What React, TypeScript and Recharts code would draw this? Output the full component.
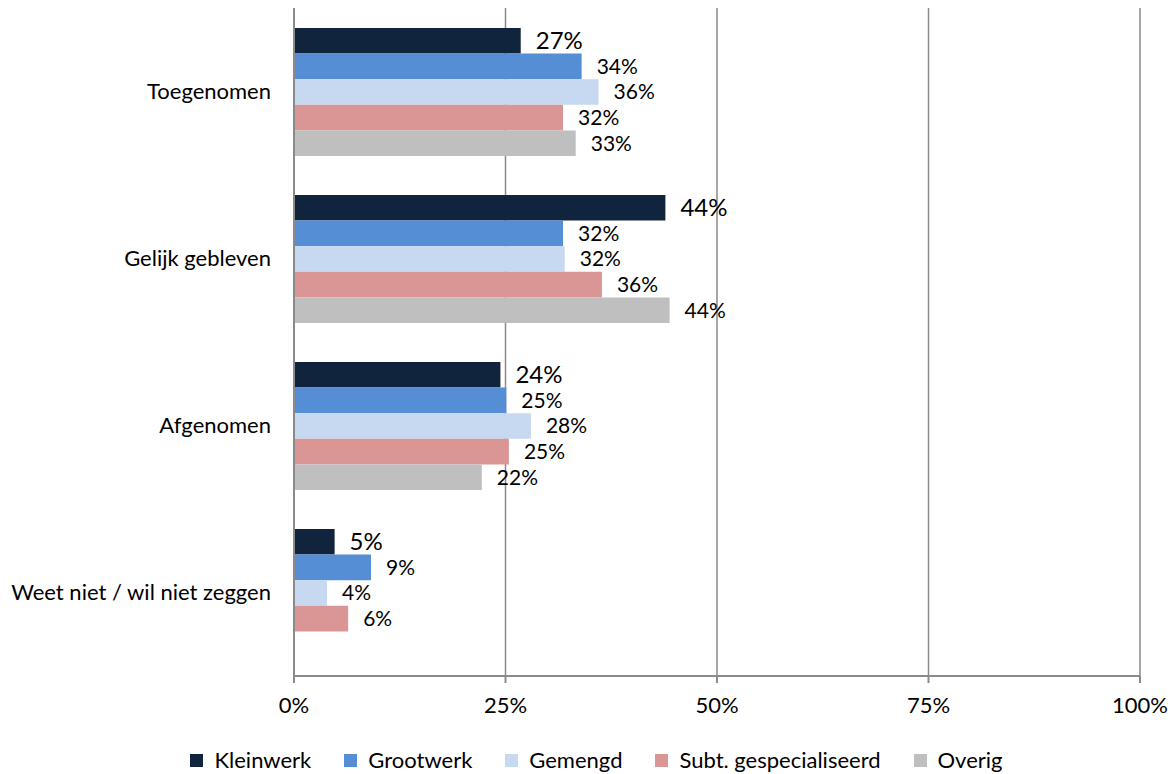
import React from "react"
import { BarChart, Bar, XAxis, YAxis, CartesianGrid, Legend, LabelList } from "recharts"

const categories = ["Toegenomen", "Gelijk gebleven", "Afgenomen", "Weet niet / wil niet zeggen"]
const kleinwerk = [26.8, 43.9, 24.4, 4.8]
const grootwerk = [34.0, 31.8, 25.1, 9.1]
const gemengd = [36.0, 32.0, 28.0, 3.9]
const subtGespecialiseerd = [31.8, 36.4, 25.4, 6.4]
const overig: (number | null)[] = [33.3, 44.4, 22.2, null]
const xTicks = [0, 25, 50, 75, 100]

const series = [
  { key: "kleinwerk", name: "Kleinwerk", color: "#10243e", values: kleinwerk, labelSize: 24 },
  { key: "grootwerk", name: "Grootwerk", color: "#558ed5", values: grootwerk, labelSize: 21 },
  { key: "gemengd", name: "Gemengd", color: "#c6d9f1", values: gemengd, labelSize: 21 },
  { key: "subt", name: "Subt. gespecialiseerd", color: "#d99694", values: subtGespecialiseerd, labelSize: 21 },
  { key: "overig", name: "Overig", color: "#bfbfbf", values: overig, labelSize: 21 },
]

const data = categories.map((name, i) => {
  const row: Record<string, any> = { name }
  series.forEach((s) => (row[s.key] = s.values[i]))
  return row
})

const GRID = "#8a8a8a"

const LegendContent = () => (
  <div style={{ display: "flex", justifyContent: "center", gap: 33, height: 24, alignItems: "center", paddingLeft: 18 }}>
    {series.map((s) => (
      <div key={s.key} style={{ display: "flex", alignItems: "center" }}>
        <span style={{ width: 13, height: 13, background: s.color, display: "inline-block", marginRight: 11 }} />
        <span style={{ fontSize: 22, color: "#000", lineHeight: "24px" }}>{s.name}</span>
      </div>
    ))}
  </div>
)

export default function App() {
  return (
    <div style={{ position: "absolute", left: 0, top: 0, width: 1175, height: 774, background: "#fff", fontFamily: "Lato, 'Open Sans', sans-serif" }}>
      <BarChart
        layout="vertical"
        width={1175}
        height={774}
        data={data}
        margin={{ top: 8, right: 35, left: 0, bottom: 2 }}
        barSize={25.6}
        barGap={0}
      >
        <CartesianGrid horizontal={false} stroke={GRID} strokeWidth={1.5} />
        <YAxis
          yAxisId="frame"
          type="number"
          domain={[0, 4]}
          ticks={[0, 1, 2, 3, 4]}
          allowDataOverflow
          tick={false}
          tickSize={7}
          axisLine={false}
          tickLine={{ stroke: GRID, strokeWidth: 2 }}
          width={0}
        />
        <YAxis
          type="category"
          dataKey="name"
          width={294}
          tickLine={false}
          tickSize={0}
          tickMargin={23}
          axisLine={{ stroke: GRID, strokeWidth: 2 }}
          tick={{ fill: "#000", fontSize: 22 }}
        />
        <XAxis
          type="number"
          domain={[0, 100]}
          ticks={xTicks}
          tickFormatter={(v) => `${v}%`}
          height={72}
          tickSize={7}
          tickMargin={14}
          axisLine={{ stroke: GRID, strokeWidth: 2 }}
          tickLine={{ stroke: GRID, strokeWidth: 2 }}
          tick={{ fill: "#000", fontSize: 22 }}
        />
        <Legend verticalAlign="bottom" content={<LegendContent />} wrapperStyle={{ left: 0, width: 1175 }} />
        {series.map((s) => (
          <Bar key={s.key} dataKey={s.key} name={s.name} fill={s.color} isAnimationActive={false}>
            <LabelList
              dataKey={s.key}
              position="right"
              offset={15}
              fill="#000"
              fontSize={s.labelSize}
              formatter={(v: any) => (v == null ? "" : `${Math.round(v)}%`)}
            />
          </Bar>
        ))}
      </BarChart>
    </div>
  )
}
